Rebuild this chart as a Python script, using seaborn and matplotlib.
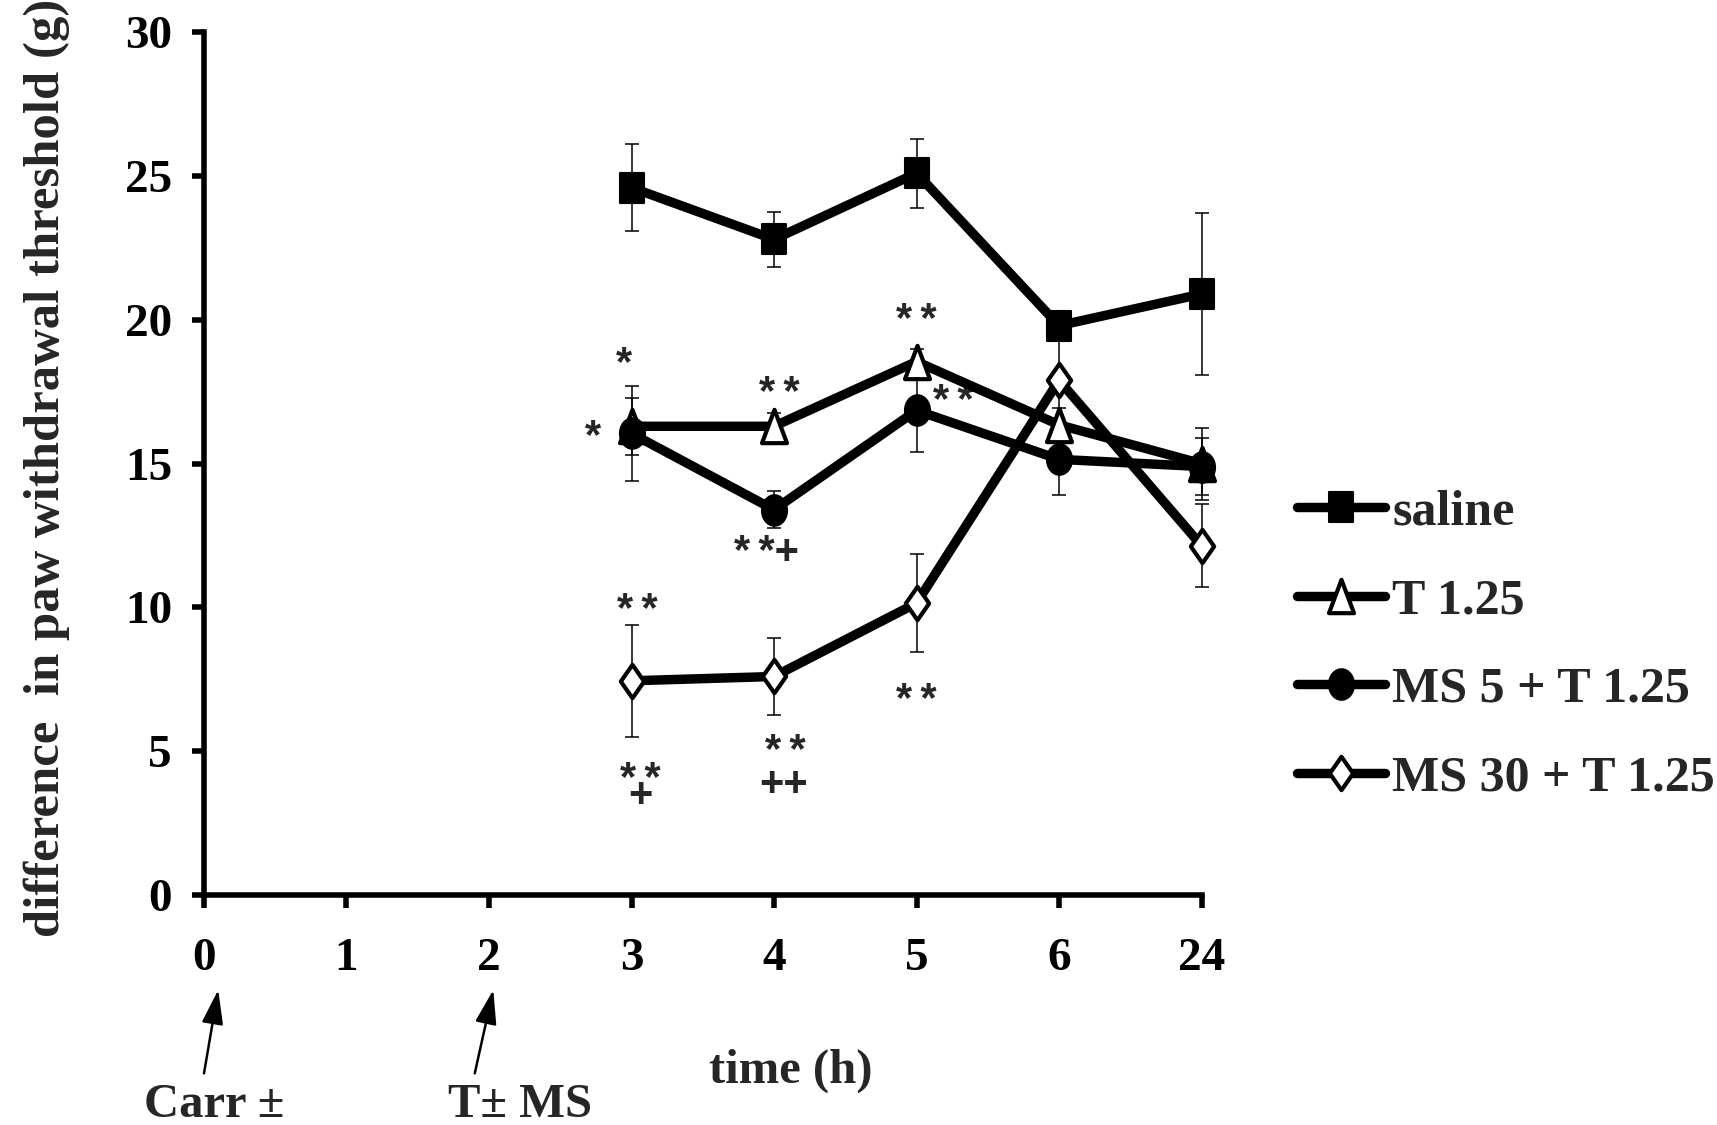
import matplotlib
matplotlib.use("Agg")
import matplotlib.pyplot as plt
from matplotlib.path import Path
from matplotlib.transforms import Affine2D
import seaborn as sns

# 数据
tick_labels = ["0", "1", "2", "3", "4", "5", "6", "24"]
times = ["3", "4", "5", "6", "24"]

saline_mean = [24.6, 22.8, 25.1, 19.8, 20.9]
saline_sem = [1.5, 0.95, 1.2, 0.5, 2.8]
t125_mean = [16.3, 16.3, 18.55, 16.35, 15.0]
t125_sem = [1.0, 0.45, 0.45, 0.6, 1.25]
ms5_mean = [16.05, 13.4, 16.85, 15.15, 14.9]
ms5_sem = [1.65, 0.65, 1.45, 1.25, 1.0]
ms30_mean = [7.45, 7.6, 10.15, 17.9, 12.15]
ms30_sem = [1.95, 1.35, 1.7, 2.1, 1.45]

group_names = ["saline", "T 1.25", "MS 5 + T 1.25", "MS 30 + T 1.25"]

# 显著性标记
note_text = ["*", "*", "**", "**", "**", "**+", "**", "**", "**", "++", "**", "+"]
note_x = [2.95, 2.73, 4.04, 5.0, 5.26, 3.95, 3.04, 5.0, 4.08, 4.07, 3.06, 3.06]
note_y = [18.8, 16.25, 17.76, 20.3, 17.5, 12.25, 10.23, 7.09, 5.3, 3.95, 4.33, 3.57]

# 字体设置
sns.set_style("ticks")
plt.rcParams["font.family"] = ["Liberation Serif", "DejaVu Serif"]
plt.rcParams["font.weight"] = "bold"
plt.rcParams["axes.labelweight"] = "bold"

# 标记形状 (原图略有纵向拉伸)
def closed(verts):
    return Path(verts + [verts[0]], closed=True)

m_square = closed([(-0.85, -1), (0.85, -1), (0.85, 1), (-0.85, 1)])
m_tri = closed([(0, 1), (-0.75, -1), (0.75, -1)])
m_circle = Path.unit_circle().transformed(Affine2D().scale(0.82, 1.0))
m_diamond = closed([(0, 1), (0.7, 0), (0, -1), (-0.7, 0)])

series = [
    (saline_mean, saline_sem, m_square, 21, "k", 1.5),
    (t125_mean, t125_sem, m_tri, 24, "white", 3.0),
    (ms5_mean, ms5_sem, m_circle, 22, "k", 1.5),
    (ms30_mean, ms30_sem, m_diamond, 24, "white", 3.0),
]

xpos = [tick_labels.index(t) for t in times]

fig = plt.figure(figsize=(17.17, 11.25), dpi=100)
ax = fig.add_axes([0.1188, 0.2044, 0.5810, 0.7669])

for name, (mean, sem, mk, size, face, edge) in zip(group_names, series):
    eb = ax.errorbar(xpos, mean, yerr=sem, fmt="none", ecolor="k",
                     elinewidth=1.1, capsize=5, capthick=1.1, zorder=2)
    for art in list(eb.lines[1]) + list(eb.lines[2]):
        art.set_clip_on(False)
    sns.lineplot(x=xpos, y=mean, ax=ax, color="k", lw=6.8, marker=mk,
                 markersize=size, markerfacecolor=face, markeredgecolor="k",
                 markeredgewidth=edge, label=name, clip_on=False, zorder=3)

note_size = 30
for txt, x, y in zip(note_text, note_x, note_y):
    shift = -0.35 * note_size if txt.startswith("+") else -0.5 * note_size
    ax.annotate(txt.replace("**", "*\u2009*"), (x, y), xytext=(0, shift),
                textcoords="offset points", ha="center", va="baseline",
                fontsize=note_size, fontweight="bold",
                family=["Liberation Sans", "DejaVu Sans"], zorder=1)

# 坐标轴
ax.set_xlim(0, 7)
ax.set_ylim(0, 30)
ax.set_xticks(range(len(tick_labels)))
ax.set_xticklabels(tick_labels)
ax.set_yticks([0, 5, 10, 15, 20, 25, 30])
sns.despine(ax=ax)
for side in ["left", "bottom"]:
    ax.spines[side].set_linewidth(4)
    ax.spines[side].set_color("k")
ax.tick_params(direction="out", length=9, width=4, labelsize=34, colors="k")
ax.tick_params(axis="x", pad=22)
ax.tick_params(axis="y", pad=14)

ax.set_xlabel("time (h)", fontsize=35)
ax.xaxis.set_label_coords(0.5885, -0.204)
ax.xaxis.label.set_verticalalignment("center")
ax.set_ylabel("difference  in paw withdrawal threshold (g)", fontsize=36.5)
ax.yaxis.set_label_coords(-0.158, 0.495)
ax.yaxis.label.set_verticalalignment("center")

# 给药时间箭头
arrow = dict(arrowstyle="-|>,head_length=0.7,head_width=0.22", color="k",
             lw=1.8, mutation_scale=30, shrinkA=0, shrinkB=0)
ax.annotate("", xy=(0.1, -3.3), xytext=(0.0, -6.2), arrowprops=arrow,
            annotation_clip=False)
ax.annotate("", xy=(2.03, -3.3), xytext=(1.9, -6.2), arrowprops=arrow,
            annotation_clip=False)
ax.text(0.07, -7.3, "Carr \u00b1", ha="center", va="center", fontsize=35,
        clip_on=False)
ax.text(2.22, -7.3, "T\u00b1 MS", ha="center", va="center", fontsize=35,
        clip_on=False)

handles, labels = ax.get_legend_handles_labels()
ax.legend(handles, labels, loc="center left", bbox_to_anchor=(0.7554, 0.4262),
          bbox_transform=fig.transFigure, frameon=False, fontsize=36,
          handlelength=1.75, handletextpad=0.15, labelspacing=0.85,
          borderpad=0, borderaxespad=0)

fig.savefig("out.png", dpi=100)
